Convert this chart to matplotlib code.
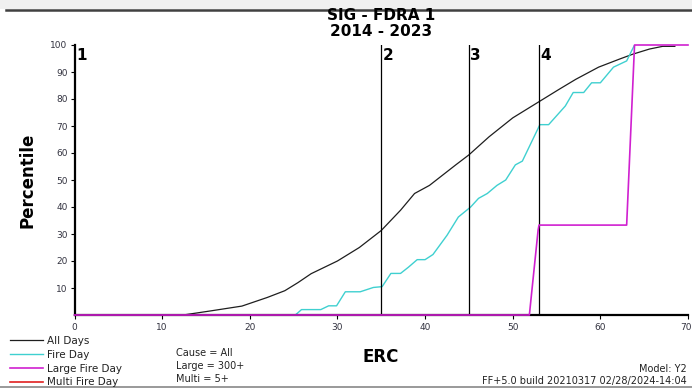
import matplotlib
matplotlib.use("Agg")
import matplotlib.pyplot as plt
import matplotlib.transforms as mtrans
from matplotlib.lines import Line2D
from matplotlib.patches import Rectangle

# ERC vs percentile
all_erc = [0, 12.4, 15.5, 19.1, 22.0, 24.0, 25.5, 27.0, 30.0, 32.5, 35.0, 37.2, 38.8, 40.5,
           43.5, 45.0, 47.3, 50.0, 53.0, 55.3, 57.2, 59.8, 62.2, 63.7, 65.6, 67.1, 68.5]
all_pct = [0, 0, 1.5, 3.3, 6.5, 9.0, 12.0, 15.3, 20.0, 25.0, 31.3, 38.8, 45.0, 48.0,
           55.6, 59.3, 66.0, 73.0, 79.0, 83.6, 87.3, 91.8, 94.8, 96.6, 98.5, 99.5, 99.5]

fire_erc = [0, 25.2, 25.9, 28.1, 29.0, 29.9, 30.9, 32.6, 34.1, 35.1, 36.1, 37.2, 38.1, 39.1,
            40.0, 40.9, 42.5, 43.8, 45.2, 46.1, 47.1, 48.2, 49.2, 50.3, 51.1, 53.1, 54.1,
            56.0, 56.9, 58.1, 59.0, 60.0, 61.5, 63.0, 63.9]
fire_pct = [0, 0, 2.0, 2.0, 3.4, 3.4, 8.6, 8.6, 10.2, 10.5, 15.4, 15.4, 17.7, 20.5,
            20.5, 22.4, 29.5, 36.3, 40.0, 43.2, 45.0, 48.0, 50.0, 55.6, 57.0, 70.5, 70.5,
            77.4, 82.4, 82.4, 86.0, 86.0, 91.8, 94.1, 100]

large_erc = [0, 51.9, 52.9, 53.0, 63.0, 63.9, 70]
large_pct = [0, 0, 31.5, 33.3, 33.3, 100, 100]

multi_erc = [0, 70]
multi_pct = [0, 0]

breakpoints = [35, 45, 53]
break_labels = ["1", "2", "3", "4"]

fig = plt.figure(figsize=(6.92, 3.88), dpi=100)
ax = fig.add_axes([74.5 / 692, 1 - 315 / 388, (688 - 74.5) / 692, 270 / 388])

ax.plot(all_erc, all_pct, color="#1e1e1e", lw=0.9, label="All Days")
ax.plot(fire_erc, fire_pct, color="#3fd0d0", lw=1.0, label="Fire Day")
# multi fire day sits on zero, under the axis line
ax.plot(multi_erc, multi_pct, color="#e02020", lw=1.2, label="Multi Fire Day", zorder=2)
ax.plot(large_erc, large_pct, color="#d020d0", lw=1.2, label="Large Fire Day",
        zorder=3, clip_on=False)

for b in breakpoints:
    ax.axvline(b, color="black", lw=0.9)

label_x = [0] + breakpoints
for x, t in zip(label_x, break_labels):
    ax.text(x + 0.15, 99, t, fontsize=11, fontweight="bold", ha="left", va="top")

ax.set_xlim(0, 70)
ax.set_ylim(0, 100)
ax.set_xticks(range(0, 71, 10))
ax.set_yticks(range(10, 101, 10))
ax.tick_params(labelsize=6.5, labelcolor="#333340", length=3, width=0.8, pad=2)
ax.tick_params(axis="x", labelsize=6.5, pad=3)
for s in ["top", "right"]:
    ax.spines[s].set_visible(False)
for s in ["left", "bottom"]:
    ax.spines[s].set_linewidth(1.6)

# last x label sits at the figure edge, nudge it in a little
last = ax.get_xticklabels()[-1]
last.set_transform(last.get_transform() + mtrans.ScaledTranslation(-2 / 100, 0, fig.dpi_scale_trans))

fig.text(381 / 692, 1 - 15 / 388, "SIG - FDRA 1", fontsize=11, fontweight="bold",
         ha="center", va="center")
fig.text(381 / 692, 1 - 31 / 388, "2014 - 2023", fontsize=11, fontweight="bold",
         ha="center", va="center")
fig.text(27 / 692, 1 - 180 / 388, "Percentile", fontsize=12, fontweight="bold",
         rotation=90, ha="center", va="center")
fig.text(381 / 692, 1 - 357 / 388, "ERC", fontsize=12, fontweight="bold",
         ha="center", va="center")

small = dict(fontsize=7, color="#222222", va="center")
fig.text(176 / 692, 1 - 353 / 388, "Cause = All", ha="left", **small)
fig.text(176 / 692, 1 - 366 / 388, "Large = 300+", ha="left", **small)
fig.text(176 / 692, 1 - 379 / 388, "Multi = 5+", ha="left", **small)
fig.text(687 / 692, 1 - 369 / 388, "Model: Y2", ha="right", **small)
fig.text(687 / 692, 1 - 381 / 388, "FF+5.0 build 20210317 02/28/2024-14:04", ha="right", **small)

handles, labels = ax.get_legend_handles_labels()
order = [0, 1, 3, 2]
fig.legend([handles[i] for i in order], [labels[i] for i in order],
           loc="upper left", bbox_to_anchor=(10 / 692, 1 - 336 / 388),
           frameon=False, fontsize=7.5, handlelength=3.2, handletextpad=0.4,
           labelspacing=0.36, borderpad=0, borderaxespad=0, labelcolor="#222222")

# window chrome at the top and rule at the bottom
fig.add_artist(Rectangle((0, 1 - 9 / 388), 1, 9 / 388, transform=fig.transFigure,
                         color="#f0f0f0", lw=0))
fig.add_artist(Line2D([6 / 692, 1], [1 - 10 / 388, 1 - 10 / 388], transform=fig.transFigure,
                      color="#404040", lw=1.8))
fig.add_artist(Line2D([0, 1], [1 - 386.5 / 388, 1 - 386.5 / 388], transform=fig.transFigure,
                      color="#888888", lw=1.2))

fig.savefig("out.png", dpi=100)
